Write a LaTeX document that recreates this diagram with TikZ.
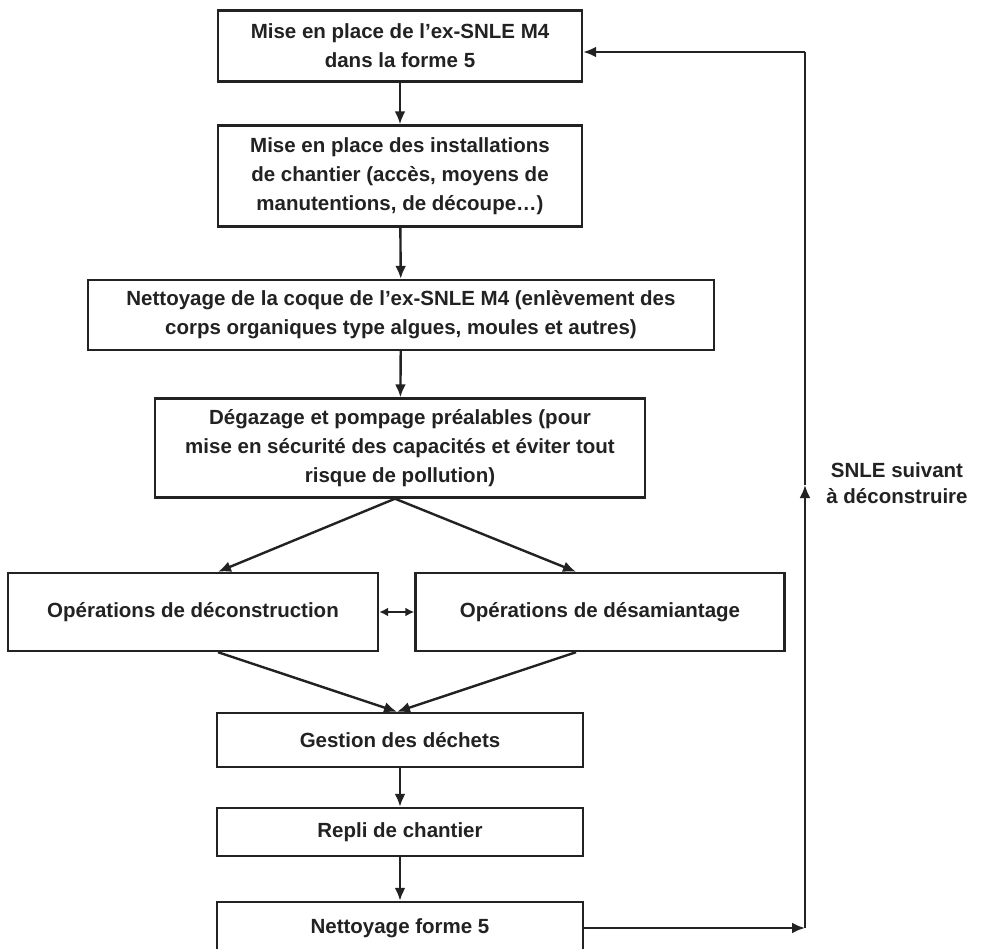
\documentclass[tikz,border=0pt]{standalone}
\usepackage{fontspec}
\setmainfont{Liberation Sans}
\usetikzlibrary{arrows.meta}
\definecolor{ink}{HTML}{222222}
\begin{document}
\begin{tikzpicture}[x=1pt,y=-1pt,
  box/.style={draw=ink,line width=2.4pt,align=center,inner sep=0pt,text=ink,
    font=\fontsize{20.5}{29}\selectfont\bfseries},
  conn/.style={draw=ink,line width=2.4pt,-{Latex[length=13pt,width=11pt]}},
  plain/.style={draw=ink,line width=2.4pt}]
\useasboundingbox (0,0) rectangle (983,949);
\fill[white] (0,0) rectangle (983,949);
\node[box,minimum width=364pt,minimum height=71pt] (b1) at (400,46) {Mise en place de l'ex-SNLE M4\\dans la forme 5};
\node[box,minimum width=364pt,minimum height=101pt] (b2) at (400,176) {Mise en place des installations\\de chantier (accès, moyens de\\manutentions, de découpe…)};
\node[box,minimum width=626pt,minimum height=70pt] (b3) at (401,315) {Nettoyage de la coque de l'ex-SNLE M4 (enlèvement des\\corps organiques type algues, moules et autres)};
\node[box,minimum width=490pt,minimum height=99pt] (b4) at (400,448) {Dégazage et pompage préalables (pour\\mise en sécurité des capacités et éviter tout\\risque de pollution)};
\node[box,minimum width=370pt,minimum height=78pt] (b5) at (193,612) {Opérations de déconstruction};
\node[box,minimum width=369pt,minimum height=78pt] (b6) at (600,612) {Opérations de désamiantage};
\node[box,minimum width=366pt,minimum height=54pt] (b7) at (400,740) {Gestion des déchets};
\node[box,minimum width=366pt,minimum height=48pt] (b8) at (400,832) {Repli de chantier};
\node[box,minimum width=366pt,minimum height=52pt] (b9) at (400,928) {Nettoyage forme 5};
\node[align=center,text=ink,font=\fontsize{20.5}{26}\selectfont\bfseries] (lbl) at (897,483) {SNLE suivant\\à déconstruire};
\coordinate (c1) at (805,928);
\coordinate (cm) at (805,485);
\coordinate (c2) at (805,52);
\draw[conn] (b1) -- (b2);
\draw[conn] (b2) -- (b3);
\draw[conn] (b3) -- (b4);
\draw[conn] ([xshift=-5pt]b4.south) -- ([xshift=25pt]b5.north);
\draw[conn] ([xshift=-5pt]b4.south) -- ([xshift=-24pt]b6.north);
\draw[conn] ([xshift=25pt]b5.south) -- ([xshift=-3pt]b7.north);
\draw[conn] ([xshift=-24pt]b6.south) -- ([xshift=-3pt]b7.north);
\draw[conn] (b7) -- (b8);
\draw[conn] (b8) -- (b9);
\draw[draw=ink,line width=2.4pt,{Latex[length=9pt,width=9pt]}-{Latex[length=9pt,width=9pt]}] (b5) -- (b6);
\draw[conn] (b9.east |- c1) -- (c1);
\draw[conn] (c1) -- (cm);
\draw[plain] (cm) -- (c2);
\draw[conn] (c2) -- (b1.east |- c2);
\end{tikzpicture}
\end{document}
